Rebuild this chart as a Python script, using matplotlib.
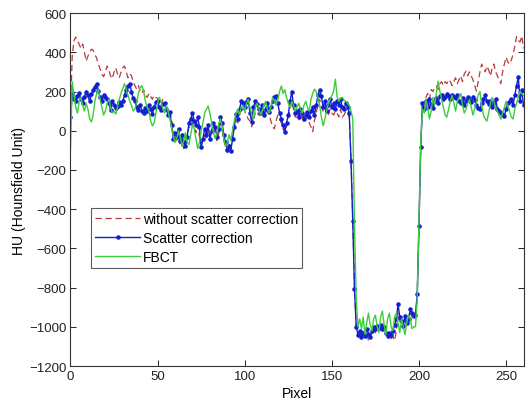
import numpy as np
import matplotlib.pyplot as plt

plt.rcParams['font.family'] = ['Liberation Sans', 'DejaVu Sans']

pixel = np.arange(0, 261)

# HU without scatter correction (red dashed)
no_corr = [
    100, 380, 460, 478, 460, 440, 420, 442, 400, 355,
    380, 400, 416, 410, 390, 370, 340, 315, 290, 275,
    300, 330, 310, 280, 265, 300, 320, 290, 270, 300,
    320, 330, 300, 270, 290, 280, 250, 230, 212, 230,
    200, 190, 210, 180, 170, 190, 175, 160, 180, 170,
    165, 150, 130, 160, 140, 120, 110, 100, 60, 10,
    -30, -50, -20, -70, -40, -90, -60, -20, 20, 10,
    40, 20, -10, 30, -30, -70, -50, -20, -40, 0,
    -30, -10, 20, 0, -50, -20, 40, 10, -50, -90,
    -110, -70, -80, -30, 10, 50, 40, 80, 110, 120,
    100, 80, 60, 50, 20, 50, 90, 100, 80, 80,
    110, 70, 90, 120, 80, 50, 20, 10, 50, 80,
    60, 40, 10, -10, 20, 60, 110, 150, 110, 70,
    70, 50, 90, 70, 40, 60, 70, 40, 20, -5,
    50, 90, 130, 160, 120, 100, 120, 80, 80, 110,
    90, 80, 100, 90, 70, 110, 70, 80, 100, 90,
    70, -140, -450, -800, -1010, -1030, -1040, -1060, -1040, -1050,
    -1030, -1070, -1060, -1030, -1010, -1030, -1000, -1020, -1000, -1020,
    -1010, -1040, -1050, -1040, -1060, -1050, -1070, -1020, -930, -970,
    -990, -1010, -960, -990, -970, -930, -950, -960, -950, -840,
    -490, -90, 130, 150, 170, 190, 160, 210, 200, 220,
    228, 210, 240, 250, 230, 250, 240, 260, 250, 230,
    250, 270, 240, 260, 280, 250, 290, 304, 280, 300,
    279, 260, 230, 202, 250, 300, 340, 320, 300, 330,
    310, 279, 320, 340, 300, 280, 260, 240, 300, 340,
    375, 350, 340, 360, 390, 430, 480, 460, 452, 483,
    420,
]

# HU with scatter correction (blue, dots)
scatter_corr = [
    70, 185, 160, 150, 175, 190, 160, 140, 170, 200,
    180, 150, 185, 210, 225, 240, 205, 170, 150, 180,
    170, 160, 140, 105, 150, 130, 115, 125, 145, 130,
    150, 180, 210, 230, 240, 200, 165, 150, 120, 105,
    130, 100, 90, 115, 100, 130, 110, 85, 120, 145,
    150, 120, 105, 135, 140, 110, 80, 95, 30, -40,
    -10, -30, 10, -50, -20, -60, -80, -30, 40, 60,
    90, 50, 30, 70, 20, -85, -40, 10, -20, 30,
    -40, 0, 40, 20, -30, 10, 70, 40, -20, -60,
    -100, -80, -105, -40, 20, 85, 60, 110, 150, 140,
    120, 145, 160, 90, 45, 120, 150, 135, 110, 90,
    130, 80, 110, 140, 95, 120, 150, 170, 175, 140,
    90, 60, 30, -5, 40, 80, 150, 200, 130, 90,
    100, 70, 110, 90, 60, 80, 95, 70, 100, 120,
    80, 130, 180, 210, 175, 120, 150, 100, 130, 160,
    120, 140, 110, 150, 130, 160, 120, 110, 140, 120,
    90, -155, -461, -808, -1000, -1040, -1020, -1050, -1030, -1045,
    -1010, -1035, -1050, -1020, -1000, -1010, -995, -1005, -990, -1010,
    -1000, -1030, -1045, -1030, -1040, -1020, -990, -960, -885, -950,
    -970, -995, -945, -980, -960, -910, -930, -945, -940, -834,
    -487, -85, 140, 110, 150, 120, 160, 135, 115, 150,
    165, 140, 175, 180, 160, 170, 185, 175, 160, 180,
    170, 165, 180, 150, 140, 165, 130, 150, 170, 160,
    145, 170, 155, 130, 115, 110, 140, 160, 180, 150,
    135, 150, 120, 140, 160, 110, 100, 90, 80, 75,
    110, 140, 150, 160, 130, 180, 230, 275, 150, 210,
    130,
]

# FBCT reference (green)
fbct = [
    -95, 250, 180, 120, 90, 150, 170, 130, 100, 140,
    110, 60, 45, 80, 150, 190, 210, 160, 120, 80,
    100, 140, 160, 120, 90, 100, 85, 120, 160, 190,
    215, 240, 210, 180, 150, 130, 100, 110, 150, 190,
    220, 230, 200, 150, 120, 100, 50, 25, 40, 90,
    140, 170, 150, 110, 90, 130, 100, 60, 20, -30,
    -60, -40, 0, -30, -80, -50, -10, -60, -70, -20,
    30, 10, -40, -90, -60, 0, 40, 90, 110, 125,
    90, 40, -10, -40, -20, 30, 60, 20, -40, -80,
    -60, -20, -50, 0, 50, 90, 110, 80, 120, 130,
    100, 140, 160, 120, 80, 60, 110, 140, 120, 80,
    100, 130, 150, 110, 90, 120, 170, 150, 130, 160,
    200, 228, 190, 210, 170, 140, 120, 150, 130, 100,
    120, 140, 110, 90, 130, 150, 120, 100, 160, 190,
    212, 200, 170, 130, 70, 25, 60, 100, 140, 160,
    180, 200, 263, 175, 150, 165, 170, 155, 150, 140,
    130, 100, 60, -480, -860, -1000, -960, -1010, -950, -1040,
    -980, -930, -990, -1020, -960, -940, -1000, -1030, -950, -920,
    -990, -1040, -960, -930, -1000, -1020, -950, -930, -980, -1030,
    -960, -1000, -1040, -980, -940, -960, -1010, -1000, -1000, -860,
    -460, -60, 110, 90, 160, 120, 60, 100, 170, 130,
    190, 253, 200, 160, 120, 80, 69, 110, 150, 180,
    140, 100, 150, 170, 190, 130, 90, 110, 140, 160,
    120, 80, 110, 150, 180, 200, 130, 80, 60, 49,
    90, 140, 170, 150, 120, 100, 80, 59, 90, 120,
    150, 130, 100, 70, 60, 110, 140, 170, 200, 190,
    180,
]

fig = plt.figure(figsize=(5.28, 4.02), dpi=100)
ax = fig.add_axes([0.1335, 0.087, 0.858, 0.878])

ax.plot(pixel, no_corr, '--', color='#b83a3a', lw=0.9, dashes=(5, 3),
        label='without scatter correction')
ax.plot(pixel, scatter_corr, '-', color='#1020d0', lw=1.0, marker='.',
        markersize=4.5, label='Scatter correction')
ax.plot(pixel, fbct, '-', color='#3ccc3c', lw=1.0, label='FBCT')

ax.set_xlim(0, 260)
ax.set_ylim(-1200, 600)
ax.set_xticks([0, 50, 100, 150, 200, 250])
ax.set_yticks(np.arange(-1200, 601, 200))
ax.tick_params(direction='in', top=True, right=True, length=4, width=0.7,
               labelsize=9.5, colors='#222222', pad=3)
for s in ax.spines.values():
    s.set_linewidth(0.8)
    s.set_color('#333333')

ax.set_xlabel('Pixel', fontsize=10, labelpad=3)
ax.set_ylabel('HU (Hounsfield Unit)', fontsize=10, labelpad=2)

leg = ax.legend(loc='lower left', bbox_to_anchor=(0.046, 0.278), fontsize=10,
                frameon=True, fancybox=False, handlelength=3.2,
                borderpad=0.3, labelspacing=0.35, handletextpad=0.2,
                borderaxespad=0)
leg.get_frame().set_edgecolor('#333333')
leg.get_frame().set_linewidth(0.8)

fig.savefig('out.png', dpi=100)
